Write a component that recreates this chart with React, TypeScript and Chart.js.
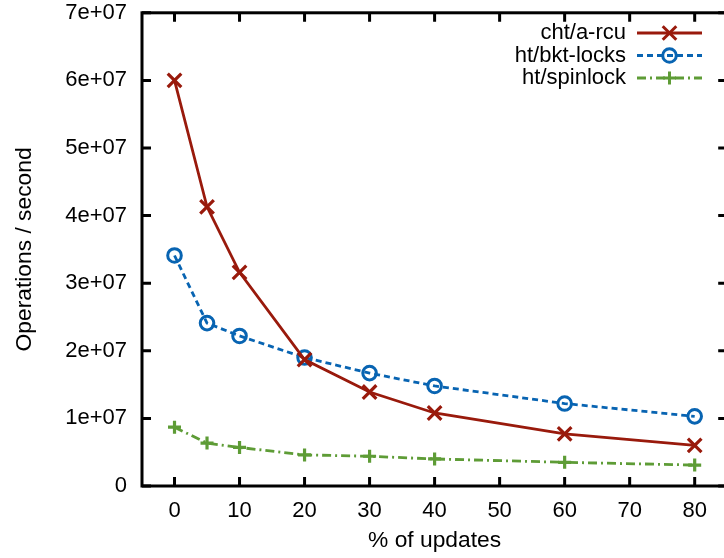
import React, { useEffect, useRef } from "react";
import { Chart, registerables } from "chart.js";

Chart.register(...registerables);

const updatesPct = [0, 5, 10, 20, 30, 40, 60, 80];
const chtArcu = [6.0e7, 4.13e7, 3.16e7, 1.87e7, 1.39e7, 1.08e7, 0.77e7, 0.6e7];
const htBktLocks = [3.41e7, 2.41e7, 2.22e7, 1.9e7, 1.67e7, 1.48e7, 1.22e7, 1.03e7];
const htSpinlock = [0.87e7, 0.635e7, 0.57e7, 0.46e7, 0.44e7, 0.4e7, 0.35e7, 0.31e7];

const seriesNames = ["cht/a-rcu", "ht/bkt-locks", "ht/spinlock"];
const xTicks = [0, 10, 20, 30, 40, 50, 60, 70, 80];
const yTicks = [0, 1e7, 2e7, 3e7, 4e7, 5e7, 6e7, 7e7];
const yTickLabels = ["0", "1e+07", "2e+07", "3e+07", "4e+07", "5e+07", "6e+07", "7e+07"];
const xTitle = "% of updates";
const yTitle = "Operations / second";

const RED = "#991a0c";
const BLUE = "#0864b2";
const GREEN = "#5e9c36";
const FAMILY = "'Liberation Sans', Arial, sans-serif";
const FONT = { family: FAMILY, size: 22 };
const TITLE_FONT = { family: FAMILY, size: 22.8 };

const drawMarker = (ctx: CanvasRenderingContext2D, kind: string, x: number, y: number, color: string) => {
  ctx.save();
  ctx.setLineDash([]);
  ctx.strokeStyle = color;
  ctx.lineWidth = 3;
  ctx.beginPath();
  if (kind === "x") {
    const d = 6.8;
    ctx.moveTo(x - d, y - d); ctx.lineTo(x + d, y + d);
    ctx.moveTo(x - d, y + d); ctx.lineTo(x + d, y - d);
  } else if (kind === "o") {
    ctx.arc(x, y, 6.8, 0, Math.PI * 2);
  } else {
    const d = 6.5;
    ctx.moveTo(x - d, y); ctx.lineTo(x + d, y);
    ctx.moveTo(x, y - d); ctx.lineTo(x, y + d);
  }
  ctx.stroke();
  ctx.restore();
};

const framePlugin = {
  id: "gnuFrame",
  afterDatasetsDraw(chart: any) {
    const { ctx, chartArea: a, scales } = chart;
    ctx.save();
    ctx.strokeStyle = "#000";
    ctx.lineWidth = 3;
    ctx.setLineDash([]);
    ctx.strokeRect(a.left, a.top, a.right - a.left, a.bottom - a.top);
    const L = 9;
    ctx.beginPath();
    for (const v of xTicks) {
      const px = scales.x.getPixelForValue(v);
      ctx.moveTo(px, a.bottom); ctx.lineTo(px, a.bottom - L);
      ctx.moveTo(px, a.top); ctx.lineTo(px, a.top + L);
    }
    for (const v of yTicks) {
      const py = scales.y.getPixelForValue(v);
      ctx.moveTo(a.left, py); ctx.lineTo(a.left + L, py);
      ctx.moveTo(a.right, py); ctx.lineTo(a.right - L, py);
    }
    ctx.stroke();

    // legend
    const rows = [33, 55.5, 78];
    const styles = [
      { color: RED, dash: [] as number[], marker: "x" },
      { color: BLUE, dash: [6, 4], marker: "o" },
      { color: GREEN, dash: [9, 4, 2, 4], marker: "+" },
    ];
    ctx.font = `${FONT.size}px ${FONT.family}`;
    ctx.textAlign = "right";
    ctx.textBaseline = "middle";
    ctx.fillStyle = "#000";
    seriesNames.forEach((name, i) => {
      const y = rows[i];
      ctx.fillText(name, 626, y);
      const s = styles[i];
      ctx.strokeStyle = s.color;
      ctx.lineWidth = 2.8;
      ctx.setLineDash(s.dash);
      ctx.beginPath();
      ctx.moveTo(637, y); ctx.lineTo(702, y);
      ctx.stroke();
      drawMarker(ctx, s.marker, 669.5, y, s.color);
    });
    ctx.restore();
  },
};

export default function App() {
  const ref = useRef<HTMLCanvasElement>(null);
  useEffect(() => {
    const pts = (ys: number[]) => updatesPct.map((x, i) => ({ x, y: ys[i] }));
    const chart = new Chart(ref.current as HTMLCanvasElement, {
      type: "line",
      data: {
        datasets: [
          {
            label: seriesNames[0], data: pts(chtArcu), borderColor: RED, backgroundColor: "transparent",
            borderWidth: 2.8, pointStyle: "crossRot", pointRadius: 9.6, pointBorderWidth: 3.2,
            pointBorderColor: RED, tension: 0,
          },
          {
            label: seriesNames[1], data: pts(htBktLocks), borderColor: BLUE, backgroundColor: "transparent",
            borderWidth: 2.8, borderDash: [6, 4], pointStyle: "circle", pointRadius: 6.8, pointBorderWidth: 3,
            pointBorderColor: BLUE, pointBackgroundColor: "transparent", tension: 0,
          },
          {
            label: seriesNames[2], data: pts(htSpinlock), borderColor: GREEN, backgroundColor: "transparent",
            borderWidth: 2.8, borderDash: [9, 4, 2, 4], pointStyle: "cross", pointRadius: 6.5, pointBorderWidth: 3.2,
            pointBorderColor: GREEN, tension: 0,
          },
        ] as any,
      },
      options: {
        responsive: false,
        animation: false,
        devicePixelRatio: 1,
        layout: { padding: { top: 12, right: 12, left: 0, bottom: 0 } },
        plugins: { legend: { display: false }, tooltip: { enabled: false } },
        scales: {
          x: {
            type: "linear", min: -5, max: 85,
            afterBuildTicks: (s: any) => { s.ticks = xTicks.map((v) => ({ value: v })); },
            afterFit: (s: any) => { s.height = 72; s.paddingLeft = 0; s.paddingRight = 0; },
            ticks: { font: FONT, color: "#000", padding: 12, maxRotation: 0, autoSkip: false },
            grid: { display: false, drawTicks: false, tickLength: 0 }, border: { display: false },
            title: { display: true, text: xTitle, font: TITLE_FONT, color: "#000", padding: { top: 0, bottom: 4 } },
          },
          y: {
            type: "linear", min: 0, max: 7e7,
            afterBuildTicks: (s: any) => { s.ticks = yTicks.map((v) => ({ value: v })); },
            afterFit: (s: any) => { s.width = 142; s.paddingTop = 0; s.paddingBottom = 0; },
            ticks: { font: FONT, color: "#000", padding: 15, callback: (_v: any, i: number) => yTickLabels[i] },
            grid: { display: false, drawTicks: false, tickLength: 0 }, border: { display: false },
            title: { display: true, text: yTitle, font: TITLE_FONT, color: "#000", padding: { top: 11, bottom: 0 } },
          },
        },
      } as any,
      plugins: [framePlugin],
    });
    return () => chart.destroy();
  }, []);
  return (
    <div style={{ position: "fixed", left: 0, top: 0, width: 724, height: 558, overflow: "hidden", background: "#fff" }}>
      <canvas ref={ref} width={740} height={558} style={{ display: "block", width: 740, height: 558 }} />
    </div>
  );
}
